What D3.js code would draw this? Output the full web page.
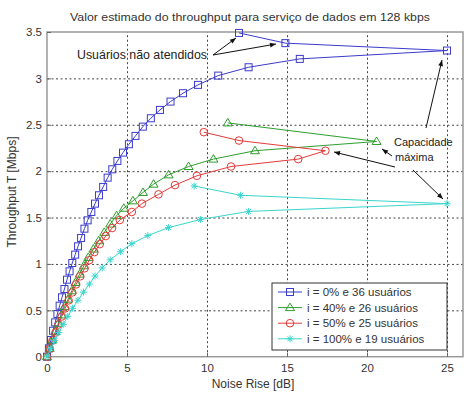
<!DOCTYPE html>
<html><head><meta charset="utf-8">
<script src="https://cdn.jsdelivr.net/npm/d3@7"></script>
<style>body{margin:0;background:#fff} svg{display:block} text{font-family:"Liberation Sans",Arial,sans-serif}</style>
</head><body><svg id="c" width="473" height="398"></svg>
<script>
const xTicks = [0,5,10,15,20,25];
const yTicks = [0,0.5,1,1.5,2,2.5,3,3.5];
const seriesNames = ["i = 0% e 36 usuários","i = 40% e 26 usuários","i = 50% e 25 usuários","i = 100% e 19 usuários"];
const blueX = [0,0.12,0.25,0.38,0.51,0.65,0.79,0.94,1.09,1.25,1.41,1.58,1.76,1.94,2.13,2.34,2.54,2.77,3.0,3.25,3.51,3.79,4.08,4.4,4.75,5.12,5.53,5.99,6.49,7.06,7.72,8.5,9.44,10.7,12.6,15.8,25,14.9,12.0];
const blueY = [0,0.09,0.18,0.28,0.37,0.46,0.55,0.64,0.73,0.83,0.92,1.01,1.1,1.19,1.28,1.38,1.47,1.56,1.65,1.74,1.83,1.93,2.02,2.11,2.2,2.29,2.38,2.48,2.57,2.66,2.75,2.84,2.93,3.03,3.12,3.21,3.3,3.38,3.49];
const greenX = [0,0.17,0.34,0.52,0.71,0.9,1.1,1.32,1.55,1.78,2.04,2.3,2.58,2.9,3.23,3.58,3.95,4.35,4.8,5.37,6.0,6.66,7.6,8.85,10.4,13.0,20.6,11.3];
const greenY = [0,0.09,0.18,0.27,0.36,0.45,0.54,0.62,0.71,0.8,0.89,0.98,1.07,1.16,1.25,1.34,1.43,1.52,1.6,1.68,1.77,1.86,1.96,2.05,2.13,2.22,2.32,2.52];
const redX = [0,0.17,0.34,0.53,0.72,0.92,1.13,1.35,1.58,1.82,2.08,2.35,2.64,2.96,3.3,3.67,4.07,4.55,5.3,5.93,6.97,8.0,9.37,11.5,15.7,17.4,12.0,9.8];
const redY = [0,0.087,0.173,0.26,0.347,0.433,0.52,0.607,0.693,0.78,0.867,0.953,1.04,1.127,1.213,1.3,1.387,1.473,1.56,1.65,1.75,1.85,1.95,2.05,2.13,2.22,2.33,2.42];
const cyanX = [0,0.23,0.48,0.74,1.01,1.3,1.6,1.93,2.28,2.65,3.0,3.45,3.95,4.6,5.3,6.3,7.6,9.6,12.6,25,12.1,9.2];
const cyanY = [0,0.087,0.174,0.261,0.348,0.435,0.522,0.609,0.696,0.783,0.87,0.957,1.044,1.131,1.218,1.305,1.392,1.479,1.566,1.65,1.74,1.84];

const svg = d3.select("#c");
const L=47,R=463,T=32,B=356.7;
const x = d3.scaleLinear().domain([0,26]).range([L,R]);
const y = d3.scaleLinear().domain([0,3.5]).range([B,T]);

// grid
const g = svg.append("g");
g.append("g").attr("transform",`translate(0,${B})`)
 .call(d3.axisBottom(x).tickValues(xTicks.slice(1)).tickSize(-(B-T)).tickFormat(""))
 .call(s=>{s.select(".domain").remove();s.selectAll("line").attr("stroke","#444").attr("stroke-dasharray","2,2.5");});
g.append("g").attr("transform",`translate(${L},0)`)
 .call(d3.axisLeft(y).tickValues(yTicks.slice(1,-1)).tickSize(-(R-L)).tickFormat(""))
 .call(s=>{s.select(".domain").remove();s.selectAll("line").attr("stroke","#444").attr("stroke-dasharray","2,2.5");});

// frame
svg.append("rect").attr("x",L).attr("y",T).attr("width",R-L).attr("height",B-T).attr("fill","none").attr("stroke","#999").attr("stroke-width",1.5);

// axes labels
const ax = svg.append("g").attr("transform",`translate(0,${B})`)
 .call(d3.axisBottom(x).tickValues(xTicks).tickSize(-4).tickPadding(7).tickFormat(d3.format("d")));
ax.select(".domain").remove();
ax.selectAll("line").attr("stroke","#666");
ax.selectAll("text").attr("font-size","11.5px").attr("fill","#333").attr("font-family","Liberation Sans, Arial");
const ay = svg.append("g").attr("transform",`translate(${L},0)`)
 .call(d3.axisLeft(y).tickValues(yTicks).tickSize(-4).tickPadding(5).tickFormat(d=>d===0?"0":String(d)));
ay.select(".domain").remove();
ay.selectAll("line").attr("stroke","#666");
ay.selectAll("text").attr("font-size","11.5px").attr("fill","#333").attr("font-family","Liberation Sans, Arial");

// titles
svg.append("text").attr("x",70).attr("y",21).attr("font-size","11.5px").attr("fill","#333")
 .attr("textLength",360).attr("lengthAdjust","spacingAndGlyphs")
 .text("Valor estimado do throughput para serviço de dados em 128 kbps");
svg.append("text").attr("x",253).attr("y",388).attr("text-anchor","middle").attr("font-size","12px").attr("fill","#333").text("Noise Rise [dB]");
svg.append("text").attr("transform","translate(16,192) rotate(-90)").attr("text-anchor","middle").attr("font-size","12px").attr("fill","#333").text("Throughput T [Mbps]");

// series
const colors = ["#3b3bcc","#2e9e2e","#e23a3a","#3ad6cc"];
const data = [[blueX,blueY],[greenX,greenY],[redX,redY],[cyanX,cyanY]];
const line = d3.line().x(d=>x(d[0])).y(d=>y(d[1]));
function marker(sel,k,cx,cy){
  const c=colors[k];
  if(k===0) sel.append("rect").attr("x",cx-3.5).attr("y",cy-3.5).attr("width",7).attr("height",7).attr("fill","none").attr("stroke",c).attr("stroke-width",1);
  else if(k===1) sel.append("path").attr("d",`M${cx},${cy-4.5}L${cx+4.5},${cy+3}L${cx-4.5},${cy+3}Z`).attr("fill","none").attr("stroke",c).attr("stroke-width",1);
  else if(k===2) sel.append("circle").attr("cx",cx).attr("cy",cy).attr("r",3.8).attr("fill","none").attr("stroke",c).attr("stroke-width",1);
  else sel.append("path").attr("d",`M${cx-3.5},${cy}H${cx+3.5}M${cx},${cy-3.5}V${cy+3.5}M${cx-2.5},${cy-2.5}L${cx+2.5},${cy+2.5}M${cx-2.5},${cy+2.5}L${cx+2.5},${cy-2.5}`).attr("fill","none").attr("stroke",c).attr("stroke-width",1);
}
data.forEach(([xs,ys],k)=>{
  const pts = xs.map((v,i)=>[v,ys[i]]);
  const sg = svg.append("g");
  sg.append("path").attr("d",line(pts)).attr("fill","none").attr("stroke",colors[k]).attr("stroke-width",1);
  pts.forEach(p=>marker(sg,k,x(p[0]),y(p[1])));
});

// annotations
const defs = svg.append("defs");
defs.append("marker").attr("id","ah").attr("viewBox","0 0 10 10").attr("refX",10).attr("refY",5)
 .attr("markerWidth",7).attr("markerHeight",6).attr("orient","auto")
 .append("path").attr("d","M0,1L10,5L0,9Z").attr("fill","#111");
function arrow(x1,y1,x2,y2){svg.append("line").attr("x1",x1).attr("y1",y1).attr("x2",x2).attr("y2",y2).attr("stroke","#111").attr("stroke-width",1).attr("marker-end","url(#ah)");}
svg.append("text").attr("x",77).attr("y",59).attr("font-size","12px").attr("fill","#222")
 .attr("textLength",130).attr("lengthAdjust","spacingAndGlyphs").text("Usuários não atendidos");
arrow(213,55,236,38);
arrow(213,55,276,44);
svg.append("text").attr("x",394).attr("y",146).attr("font-size","11px").attr("fill","#222").text("Capacidade");
svg.append("text").attr("x",395).attr("y",161).attr("font-size","11px").attr("fill","#222").text("máxima");
arrow(426,128,442,60);
arrow(392,156,382,149);
arrow(395,167,334,152);
arrow(413,170,443,199);

// legend
const lg = svg.append("g");
lg.append("rect").attr("x",272).attr("y",283).attr("width",175).attr("height",67).attr("fill","#fff").attr("stroke","#333").attr("stroke-width",1);
seriesNames.forEach((n,k)=>{
  const yy = 292+k*15.6;
  lg.append("line").attr("x1",278).attr("x2",302).attr("y1",yy).attr("y2",yy).attr("stroke",colors[k]).attr("stroke-width",1);
  marker(lg,k,290,yy);
  lg.append("text").attr("x",307).attr("y",yy+4).attr("font-size","11.5px").attr("fill","#333").text(n);
});
</script></body></html>
